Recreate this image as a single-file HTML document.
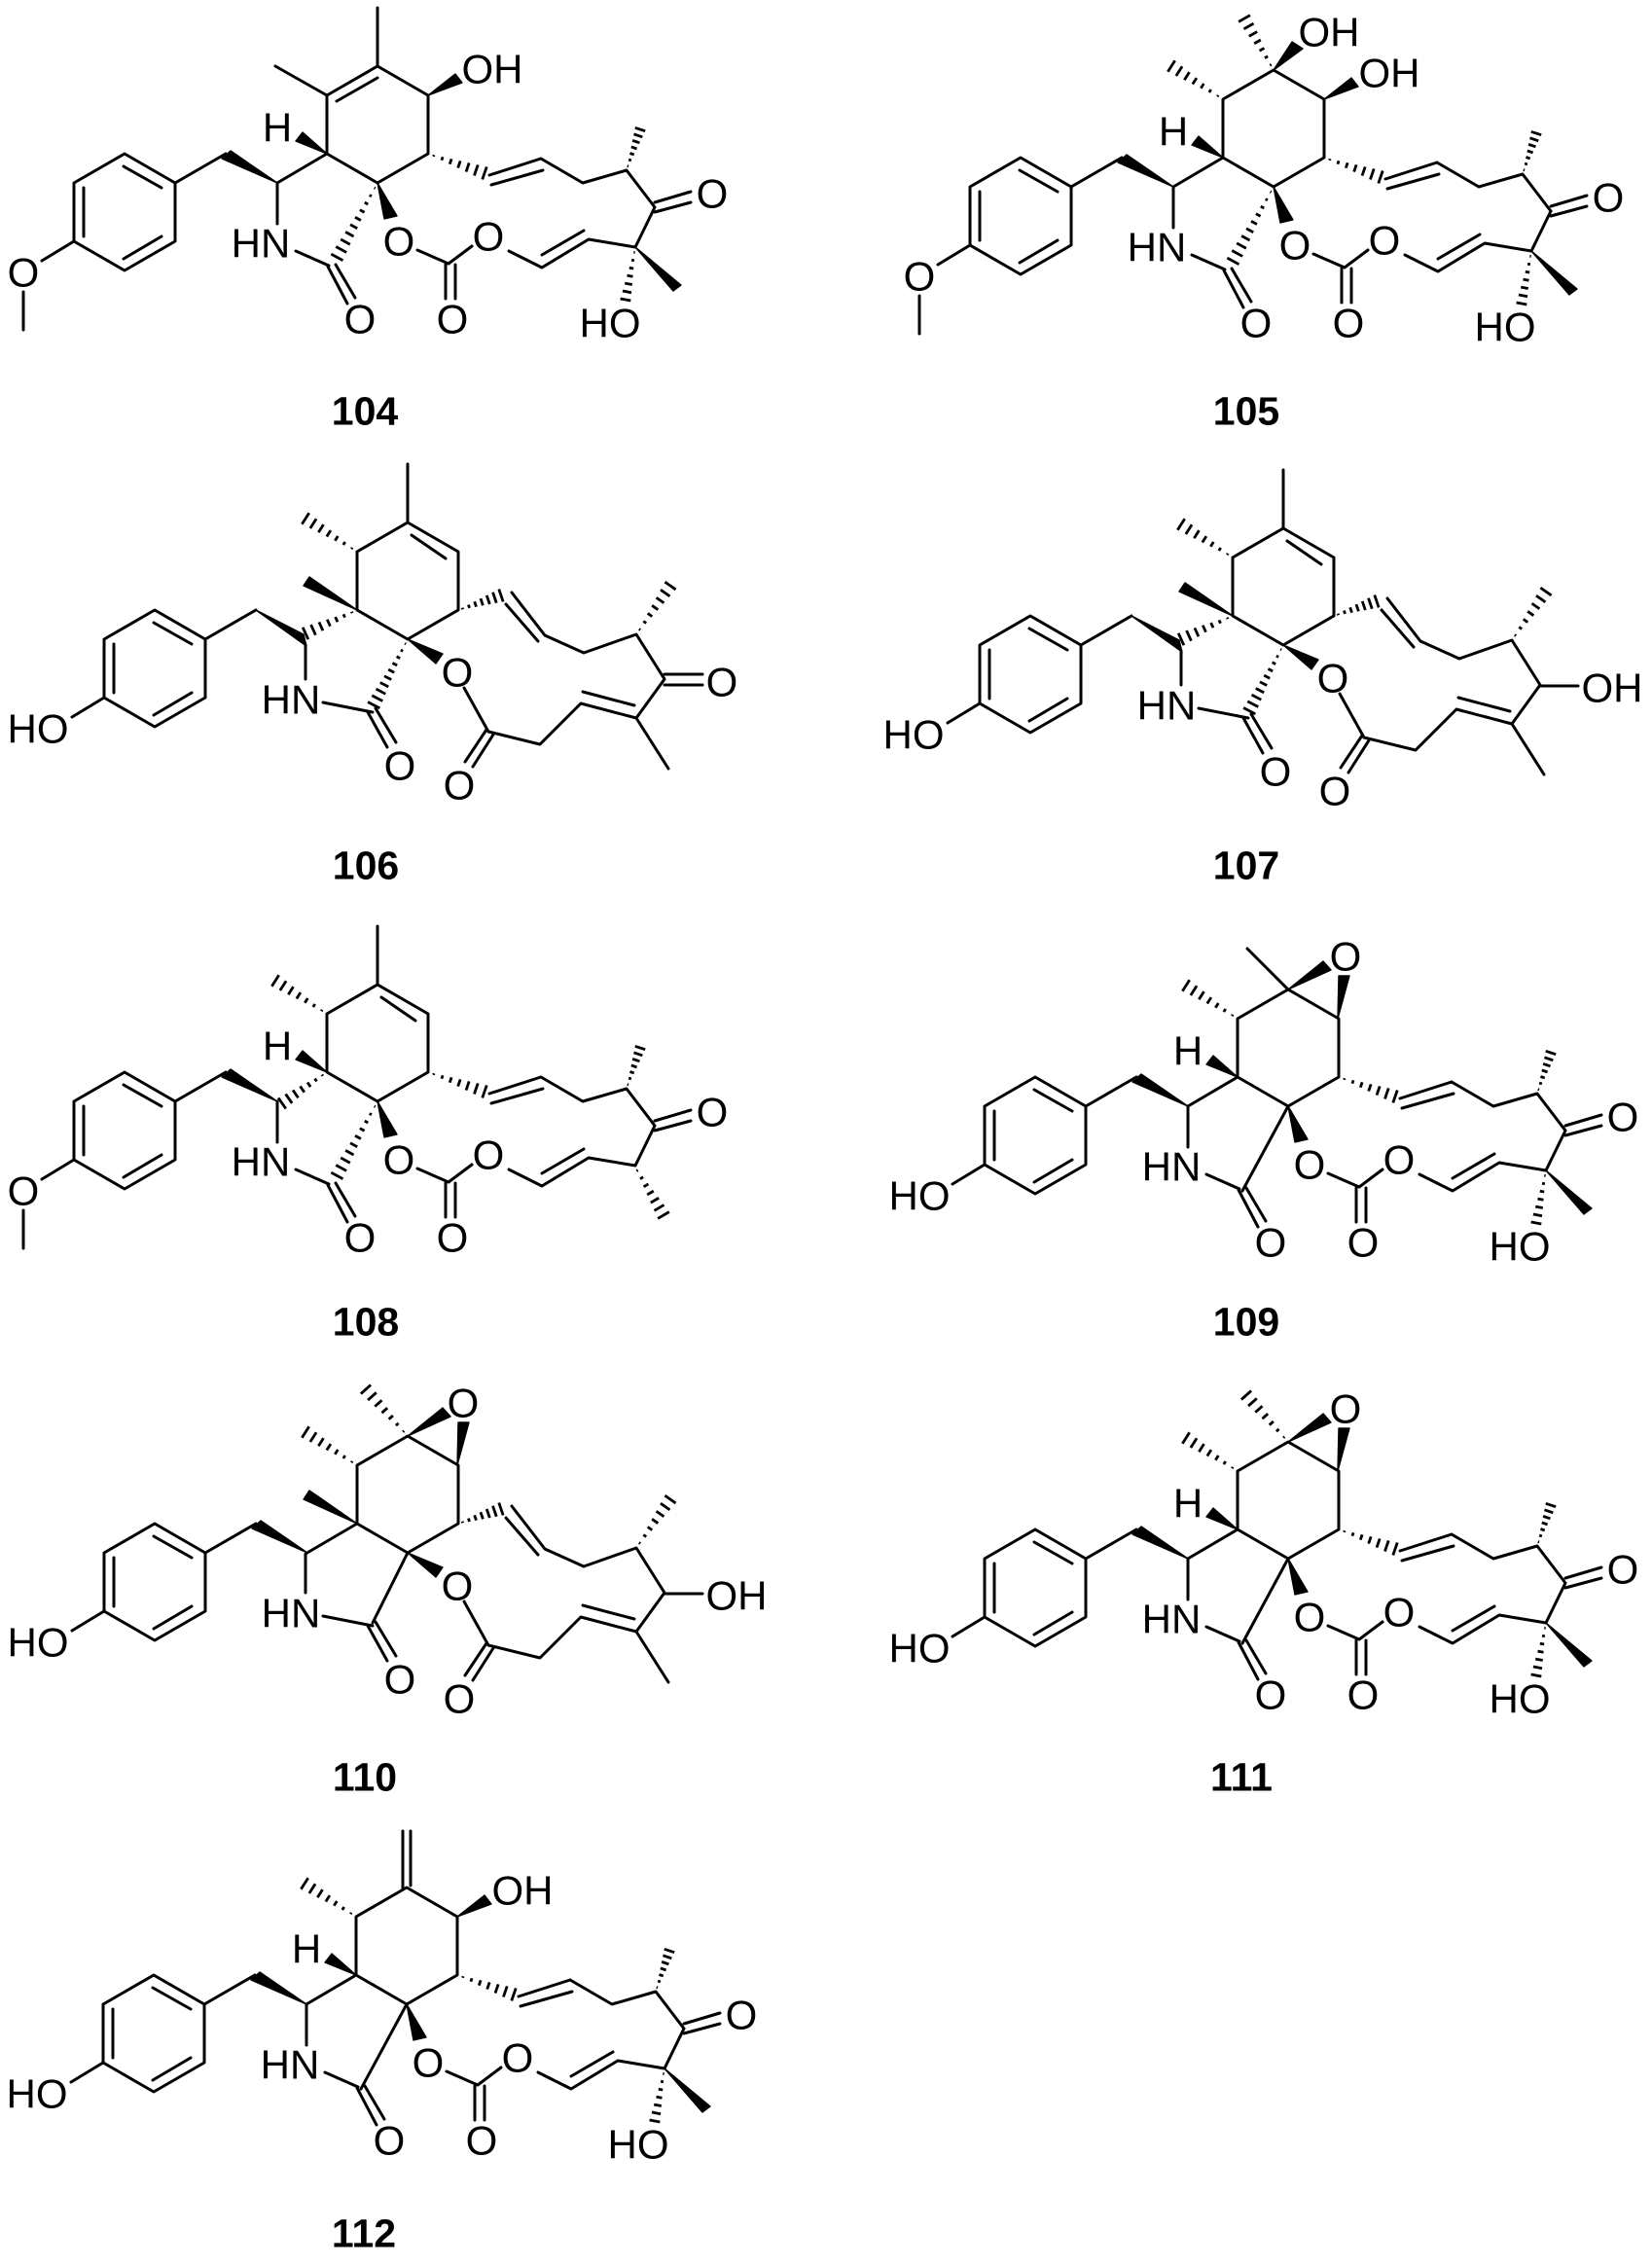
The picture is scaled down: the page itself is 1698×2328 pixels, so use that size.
<!DOCTYPE html>
<html lang="en">
<head>
<meta charset="utf-8">
<title>Compounds 104-112</title>
<style>
html,body{margin:0;padding:0;background:#fff}
svg{display:block}
path,line{fill:none;stroke:#000;stroke-width:3;stroke-linejoin:round;stroke-linecap:round}
polygon{fill:#000;stroke:#000;stroke-width:1.4;stroke-linejoin:round}
.hl line{stroke-width:2.8;stroke-linecap:butt;vector-effect:non-scaling-stroke}
text{font-family:"Liberation Sans",Arial,sans-serif;font-size:42px;fill:#000;text-anchor:middle;transform:translateY(1.5px)}
text.lb{font-weight:bold;font-size:41px}
</style>
</head>
<body>
<svg xmlns="http://www.w3.org/2000/svg" width="1698" height="2328" viewBox="0 0 1698 2328">
<rect width="1698" height="2328" fill="#fff"/>
<defs>
<g id="h" class="hl">
<line x1="6" y1="-.8" x2="6" y2=".8"/><line x1="15" y1="-1.8" x2="15" y2="1.8"/><line x1="24" y1="-2.8" x2="24" y2="2.8"/><line x1="33" y1="-3.8" x2="33" y2="3.8"/><line x1="42" y1="-4.8" x2="42" y2="4.8"/><line x1="51" y1="-5.8" x2="51" y2="5.8"/><line x1="60" y1="-6.8" x2="60" y2="6.8"/>
</g>
<g id="hl" class="hl">
<line x1="6" y1="-.6" x2="6" y2=".6"/><line x1="15" y1="-1.3" x2="15" y2="1.3"/><line x1="24" y1="-2" x2="24" y2="2"/><line x1="33" y1="-2.7" x2="33" y2="2.7"/><line x1="42" y1="-3.4" x2="42" y2="3.4"/><line x1="51" y1="-4.1" x2="51" y2="4.1"/><line x1="60" y1="-4.8" x2="60" y2="4.8"/><line x1="69" y1="-5.5" x2="69" y2="5.5"/><line x1="78" y1="-6.2" x2="78" y2="6.2"/><line x1="87" y1="-6.9" x2="87" y2="6.9"/>
</g>
<path id="ar" d="M-208 0L-260-30L-312 0V60L-260 90L-208 60Z M-208 0L-156-30 M-261-17L-222 5 M-222 55L-261 78 M-302 5V55 M-312 60L-345 80"/>
<path id="ring" d="M-52-30L0 0L52-30V-90L0-120L-52-90Z"/>
<path id="ome" d="M-364 112V151"/>
<g id="mc">
<path d="M115-8L168-25 M117 2L170-13 M168-25L211 0L256-13L285 25 M285 20L322 9 M285 30L322 20 M285 25L265 66L217 58L169 87L135 70 M212 49L169 74 M97 65L73 83L41 69 M70 84V119 M80 84V119"/>
<polygon points="0,0 7,37 20,34"/>
<use href="#h" transform="matrix(.967 .333 -.328 .951 52 -30)"/>
<use href="#h" transform="matrix(.233 -.7 .764 .254 256 -13)"/>
</g>
<g id="ho">
<polygon points="265,66 312,105 304,111"/>
<use href="#h" transform="matrix(-.167 .9 -.786 -.145 265 66)"/>
</g>
<g id="m2">
<path d="M107-48L141-4 M101-36L134 2 M141-4L181 14L235-5L264 41L235 81L178 66L136 108L83 95L58 50 M180 54L233 68 M235 81L268 133 M81 93L59 126 M88 98L67 131"/>
<polygon points="0,0 36,15 29,25"/>
<use href="#h" transform="matrix(.733 -.25 .323 .946 52 -30)"/>
<use href="#h" transform="matrix(.583 -.833 .82 .574 235 -5)"/>
</g>
<path id="lac" d="M-103 0V42 M-84 70L-50 85 M-51 86L-31 124 M-43 84L-23 118"/>
<path id="lac2" d="M-87 65L-36 75 M-41 75L-21 111 M-33 71L-12 106"/>
<polygon id="wc" points="-103,0 -160,-25 -151,-33"/>
<polygon id="wr" points="-156,-30 -107,-5 -104,7"/>
<polygon id="wh" points="-52,-30 -84,-43 -77,-52"/>
<polygon id="wm" points="-52,-30 -107,-55 -101,-64"/>
<polygon id="woh" points="52,-90 80,-112 87,-103"/>
<g id="hm"><use href="#h" transform="matrix(-.883 -.567 .54 -.841 -52 -90)"/></g>
<g id="hal"><use href="#hl" transform="matrix(-.478 .878 -.878 -.478 0 0)"/></g>
<g id="epox">
<polygon points="0,-120 36,-149 44,-140"/>
<polygon points="51,-90 52,-134 63,-134"/>
</g>
</defs>

<!-- 104 -->
<g transform="translate(388 188)">
<use href="#ar"/><use href="#ome"/><use href="#ring"/><use href="#mc"/><use href="#ho"/><use href="#lac"/><use href="#wc"/><use href="#wh"/><use href="#woh"/><use href="#hal"/>
<path d="M-52-30L-103 0 M-42-84L0-108 M-52-90L-105-120 M0-120V-180"/>
<text x="-120" y="75">HN</text><text x="-103" y="-44">H</text><text x="118" y="-104">OH</text><text x="-364" y="105">O</text>
<text x="-18" y="153">O</text><text x="22" y="73">O</text><text x="114" y="68">O</text><text x="77" y="153">O</text><text x="344" y="24">O</text><text x="239" y="157">HO</text>
</g>
<text class="lb" x="375" y="435">104</text>

<!-- 105 -->
<g transform="translate(1309 192)">
<use href="#ar"/><use href="#ome"/><use href="#ring"/><use href="#mc"/><use href="#ho"/><use href="#lac"/><use href="#wc"/><use href="#wh"/><use href="#woh"/><use href="#hal"/><use href="#hm"/>
<path d="M-52-30L-103 0"/>
<polygon points="0,-120 19,-149 30,-142"/>
<use href="#h" transform="matrix(-.5 -.883 .869 -.492 0 -120)"/>
<text x="-120" y="75">HN</text><text x="-103" y="-44">H</text><text x="119" y="-104">OH</text><text x="57" y="-146">OH</text><text x="-364" y="105">O</text>
<text x="-18" y="153">O</text><text x="22" y="73">O</text><text x="114" y="68">O</text><text x="77" y="153">O</text><text x="344" y="24">O</text><text x="238" y="157">HO</text>
</g>
<text class="lb" x="1281" y="435">105</text>

<!-- 106 -->
<g transform="translate(419 657)">
<use href="#ar"/><use href="#ring"/><use href="#m2"/><use href="#lac2"/><use href="#wr"/><use href="#wm"/><use href="#hm"/>
<use href="#h" transform="matrix(-.883 .4 -.414 -.914 -52 -30)"/>
<use href="#hl" transform="matrix(-.4 .778 -.886 -.456 0 0)"/>
<path d="M-105 6V41 M4-107L39-83 M0-120V-180 M264 36H303 M264 47H303"/>
<text x="-120" y="75">HN</text><text x="-380" y="105">HO</text><text x="51" y="47">O</text><text x="-8" y="143">O</text><text x="53" y="163">O</text><text x="323" y="57">O</text>
</g>
<text class="lb" x="376" y="902">106</text>

<!-- 107 -->
<g transform="translate(1319 663)">
<use href="#ar"/><use href="#ring"/><use href="#m2"/><use href="#lac2"/><use href="#wr"/><use href="#wm"/><use href="#hm"/>
<use href="#h" transform="matrix(-.883 .4 -.414 -.914 -52 -30)"/>
<use href="#hl" transform="matrix(-.4 .778 -.886 -.456 0 0)"/>
<path d="M-105 6V41 M4-107L39-83 M0-120V-180 M264 42H303"/>
<text x="-120" y="75">HN</text><text x="-380" y="105">HO</text><text x="51" y="47">O</text><text x="-8" y="143">O</text><text x="53" y="163">O</text><text x="338" y="57">OH</text>
</g>
<text class="lb" x="1281" y="902">107</text>

<!-- 108 -->
<g transform="translate(388 1132)">
<use href="#ar"/><use href="#ome"/><use href="#ring"/><use href="#mc"/><use href="#lac"/><use href="#wc"/><use href="#wh"/><use href="#hal"/><use href="#hm"/>
<use href="#h" transform="matrix(-.767 .533 -.571 -.821 -52 -30)"/>
<use href="#h" transform="matrix(.5 .85 -.864 .508 264 66)"/>
<path d="M4-107L39-83 M0-120V-180"/>
<text x="-120" y="75">HN</text><text x="-103" y="-44">H</text><text x="-364" y="105">O</text>
<text x="-18" y="153">O</text><text x="22" y="73">O</text><text x="114" y="68">O</text><text x="77" y="153">O</text><text x="344" y="24">O</text>
</g>
<text class="lb" x="376" y="1371">108</text>

<!-- 109 -->
<g transform="translate(1324 1137)">
<use href="#ar"/><use href="#ring"/><use href="#mc"/><use href="#ho"/><use href="#lac"/><use href="#wc"/><use href="#wh"/><use href="#hm"/><use href="#epox"/>
<path d="M-52-30L-103 0 M0 0L-47 87 M0-120L-42-162"/>
<text x="-120" y="75">HN</text><text x="-103" y="-44">H</text><text x="-379" y="105">HO</text><text x="59" y="-141">O</text>
<text x="-18" y="153">O</text><text x="22" y="73">O</text><text x="114" y="68">O</text><text x="77" y="153">O</text><text x="344" y="24">O</text><text x="238" y="157">HO</text>
</g>
<text class="lb" x="1281" y="1371">109</text>

<!-- 110 -->
<g transform="translate(419 1596)">
<use href="#ar"/><use href="#ring"/><use href="#m2"/><use href="#lac2"/><use href="#wc"/><use href="#wm"/><use href="#hm"/><use href="#epox"/>
<use href="#h" transform="matrix(-.717 -.8 .75 -.672 0 -120)"/>
<path d="M-52-30L-105 1V41 M0 0L-36 72 M264 42H303"/>
<text x="-120" y="75">HN</text><text x="-380" y="105">HO</text><text x="51" y="47">O</text><text x="-8" y="143">O</text><text x="53" y="163">O</text><text x="338" y="57">OH</text><text x="57" y="-141">O</text>
</g>
<text class="lb" x="375" y="1839">110</text>

<!-- 111 -->
<g transform="translate(1324 1602)">
<use href="#ar"/><use href="#ring"/><use href="#mc"/><use href="#ho"/><use href="#lac"/><use href="#wc"/><use href="#wh"/><use href="#hm"/><use href="#epox"/>
<use href="#h" transform="matrix(-.717 -.8 .75 -.672 0 -120)"/>
<path d="M-52-30L-103 0 M0 0L-47 87"/>
<text x="-120" y="75">HN</text><text x="-103" y="-44">H</text><text x="-379" y="105">HO</text><text x="59" y="-141">O</text>
<text x="-18" y="153">O</text><text x="22" y="73">O</text><text x="114" y="68">O</text><text x="77" y="153">O</text><text x="344" y="24">O</text><text x="238" y="157">HO</text>
</g>
<text class="lb" x="1276" y="1839">111</text>

<!-- 112 -->
<g transform="translate(418 2060)">
<use href="#ar"/><use href="#ring"/><use href="#mc"/><use href="#ho"/><use href="#lac"/><use href="#wc"/><use href="#wh"/><use href="#woh"/><use href="#hm"/>
<path d="M-52-30L-103 0 M0 0L-47 87 M-4-119V-178 M4-122V-178"/>
<text x="-120" y="75">HN</text><text x="-103" y="-44">H</text><text x="119" y="-104">OH</text><text x="-380" y="105">HO</text>
<text x="-18" y="153">O</text><text x="22" y="73">O</text><text x="114" y="68">O</text><text x="77" y="153">O</text><text x="344" y="24">O</text><text x="238" y="157">HO</text>
</g>
<text class="lb" x="374" y="2308">112</text>
</svg>
</body>
</html>
